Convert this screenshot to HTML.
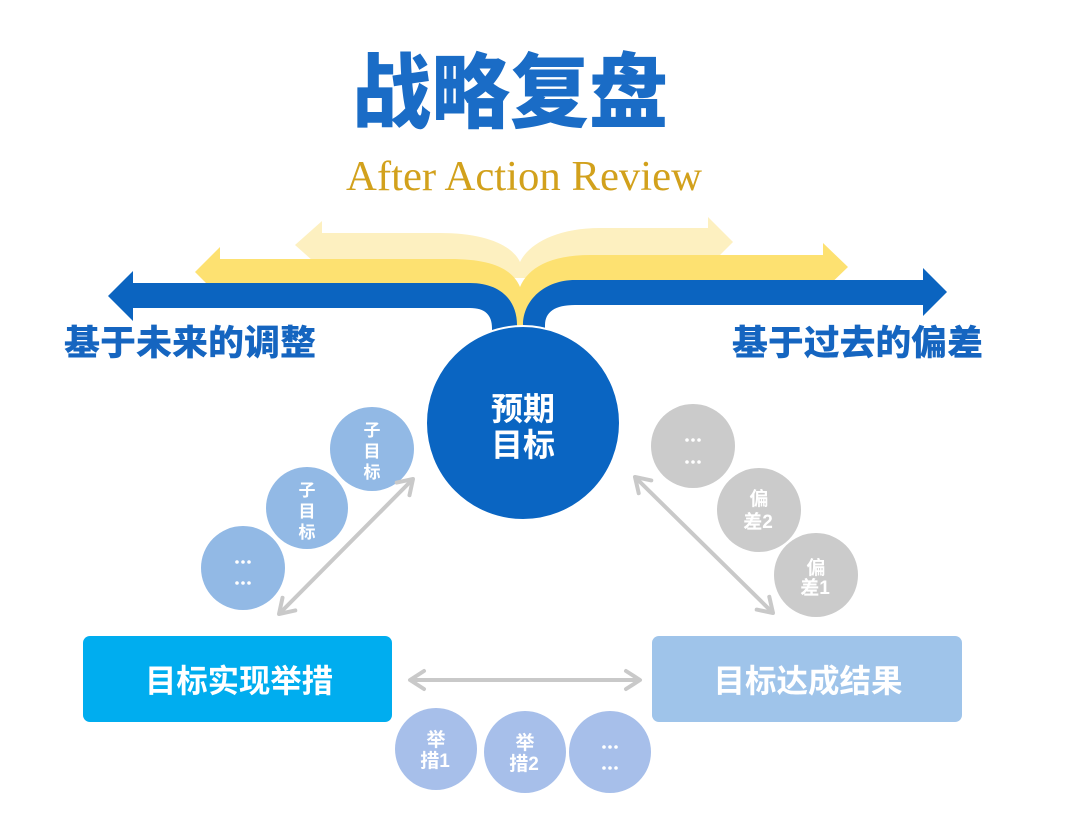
<!DOCTYPE html>
<html>
<head>
<meta charset="utf-8">
<style>
  html,body{margin:0;padding:0;background:#ffffff;}
  body{width:1080px;height:815px;overflow:hidden;}
  svg{display:block;}
  .cjk{font-family:"Liberation Sans","Noto Sans CJK SC","WenQuanYi Zen Hei",sans-serif;}
</style>
</head>
<body>
<svg width="1080" height="815" viewBox="0 0 1080 815" xmlns="http://www.w3.org/2000/svg">
  <rect x="0" y="0" width="1080" height="815" fill="#ffffff"/>

  <!-- Title -->
  <text class="cjk" x="510" y="121" font-size="82" font-weight="900" fill="#1a6cc6" text-anchor="middle" textLength="316" lengthAdjust="spacingAndGlyphs">战略复盘</text>
  <text x="346" y="190" font-family="'Liberation Serif', serif" font-size="42" fill="#d2a11c" textLength="356" lengthAdjust="spacingAndGlyphs">After Action Review</text>

  <!-- Pale yellow book page -->
  <path d="M295,245 L322,221 L322,233 L440,233 C485,233 512,245 520,262 C528,245 555,228 600,228 L708,228 L708,217 L733,242 L708,267 L708,278 L322,278 L322,269 Z" fill="#fdf0c0"/>
  <!-- Main yellow book page -->
  <path d="M195,272 L220,247 L220,259 L450,259 C490,259 512,268 520,287 C528,268 550,255 590,255 L823,255 L823,243 L848,267 L823,291 L823,300 L545,300 L545,336 L492,336 L492,306 L220,306 L220,297 Z" fill="#fde171"/>

  <!-- Blue arrows -->
  <path d="M108,296 L133,271 L133,283 L470,283 C500,283 517,300 517,325 L517,345 L492,345 L492,328 C492,315 485,308 470,308 L133,308 L133,321 Z" fill="#0b64c0"/>
  <path d="M947,292 L923,268 L923,280 L575,280 C545,280 523,300 523,325 L523,345 L545,345 L545,325 C545,312 555,305 575,305 L923,305 L923,316 Z" fill="#0b64c0"/>

  <!-- Side labels -->
  <text class="cjk" x="64" y="355" font-size="35" font-weight="900" fill="#1565c0" textLength="252" lengthAdjust="spacingAndGlyphs">基于未来的调整</text>
  <text class="cjk" x="732" y="355" font-size="35" font-weight="900" fill="#1565c0" textLength="251" lengthAdjust="spacingAndGlyphs">基于过去的偏差</text>

  <!-- Central circle -->
  <circle cx="523" cy="423" r="97" fill="#0a65c2" stroke="#ffffff" stroke-width="2"/>
  <text class="cjk" x="523" y="420" font-size="32" font-weight="bold" fill="#ffffff" text-anchor="middle">预期</text>
  <text class="cjk" x="523" y="456" font-size="32" font-weight="bold" fill="#ffffff" text-anchor="middle">目标</text>

  <!-- Sub-goal circles (left) -->
  <circle cx="372" cy="449" r="42" fill="#92b9e5"/>
  <g class="cjk" font-size="17" font-weight="bold" fill="#ffffff" text-anchor="middle">
    <text x="372" y="436">子</text>
    <text x="372" y="457">目</text>
    <text x="372" y="478">标</text>
  </g>
  <circle cx="307" cy="508" r="41" fill="#92b9e5"/>
  <g class="cjk" font-size="17" font-weight="bold" fill="#ffffff" text-anchor="middle">
    <text x="307" y="496">子</text>
    <text x="307" y="517">目</text>
    <text x="307" y="538">标</text>
  </g>
  <circle cx="243" cy="568" r="42" fill="#92b9e5"/>
  <g fill="#ffffff">
    <circle cx="237" cy="562" r="1.8"/><circle cx="243" cy="562" r="1.8"/><circle cx="249" cy="562" r="1.8"/>
    <circle cx="237" cy="583" r="1.8"/><circle cx="243" cy="583" r="1.8"/><circle cx="249" cy="583" r="1.8"/>
  </g>

  <!-- Deviation circles (right) -->
  <circle cx="693" cy="446" r="42" fill="#cbcbcb"/>
  <g fill="#ffffff">
    <circle cx="687" cy="440" r="1.8"/><circle cx="693" cy="440" r="1.8"/><circle cx="699" cy="440" r="1.8"/>
    <circle cx="687" cy="462" r="1.8"/><circle cx="693" cy="462" r="1.8"/><circle cx="699" cy="462" r="1.8"/>
  </g>
  <circle cx="759" cy="510" r="42" fill="#cbcbcb"/>
  <g class="cjk" font-size="19" font-weight="bold" fill="#ffffff" text-anchor="middle">
    <text x="759" y="505">偏</text>
    <text x="758" y="528">差2</text>
  </g>
  <circle cx="816" cy="575" r="42" fill="#cbcbcb"/>
  <g class="cjk" font-size="19" font-weight="bold" fill="#ffffff" text-anchor="middle">
    <text x="816" y="574">偏</text>
    <text x="815" y="594">差1</text>
  </g>

  <!-- Gray double arrows -->
  <g stroke="#c9c9c9" stroke-width="4" stroke-linecap="round" stroke-linejoin="round" fill="none">
    <line x1="281" y1="612" x2="411" y2="481"/>
    <polyline points="396.7,482.6 413,479 409.5,495.2"/>
    <polyline points="295.3,610.4 279,614 282.5,597.8"/>

    <line x1="637" y1="479" x2="771" y2="611"/>
    <polyline points="638.7,493.2 635,477 651.3,480.4"/>
    <polyline points="756.7,609.6 773,613 769.3,596.8"/>

    <line x1="412" y1="680" x2="638" y2="680"/>
    <polyline points="424,671 410,680 424,689"/>
    <polyline points="626,671 640,680 626,689"/>
  </g>

  <!-- Bottom boxes -->
  <rect x="83" y="636" width="309" height="86" rx="7" fill="#00adef"/>
  <text class="cjk" x="239" y="692" font-size="32" font-weight="bold" fill="#ffffff" text-anchor="middle" textLength="188" lengthAdjust="spacingAndGlyphs">目标实现举措</text>
  <rect x="652" y="636" width="310" height="86" rx="7" fill="#9fc4ea"/>
  <text class="cjk" x="808" y="692" font-size="32" font-weight="bold" fill="#ffffff" text-anchor="middle" textLength="189" lengthAdjust="spacingAndGlyphs">目标达成结果</text>

  <!-- Measure circles (bottom) -->
  <circle cx="436" cy="749" r="41" fill="#a7bfea"/>
  <g class="cjk" font-size="19" font-weight="bold" fill="#ffffff" text-anchor="middle">
    <text x="436" y="746">举</text>
    <text x="435" y="767">措1</text>
  </g>
  <circle cx="525" cy="752" r="41" fill="#a7bfea"/>
  <g class="cjk" font-size="19" font-weight="bold" fill="#ffffff" text-anchor="middle">
    <text x="525" y="749">举</text>
    <text x="524" y="770">措2</text>
  </g>
  <circle cx="610" cy="752" r="41" fill="#a7bfea"/>
  <g fill="#ffffff">
    <circle cx="604" cy="747" r="1.8"/><circle cx="610" cy="747" r="1.8"/><circle cx="616" cy="747" r="1.8"/>
    <circle cx="604" cy="768" r="1.8"/><circle cx="610" cy="768" r="1.8"/><circle cx="616" cy="768" r="1.8"/>
  </g>
</svg>
</body>
</html>
